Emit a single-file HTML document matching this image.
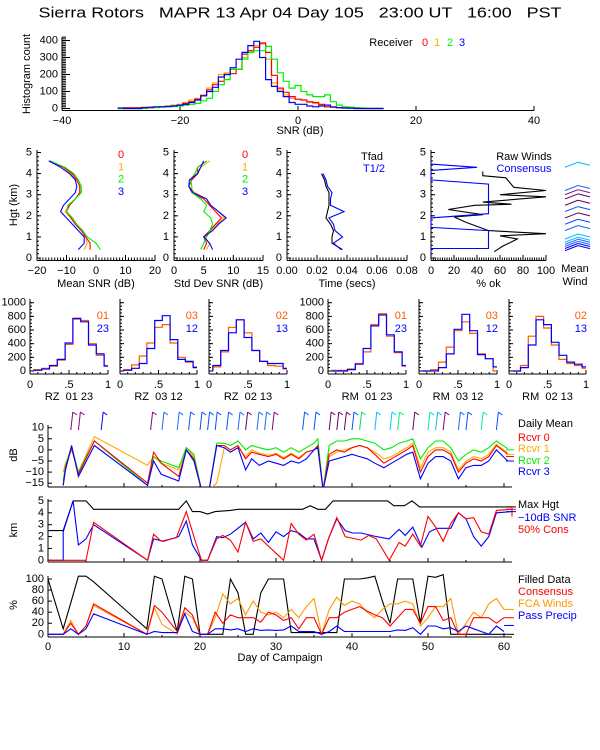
<!DOCTYPE html>
<html><head><meta charset="utf-8"><style>
html,body{margin:0;padding:0;background:#fff;}
svg{display:block;font-family:"Liberation Sans",sans-serif;}
</style></head><body>
<svg id="chart" width="600" height="750" viewBox="0 0 600 750" xmlns="http://www.w3.org/2000/svg">
<rect width="600" height="750" fill="#fff"/>
<text x="300" y="13" text-anchor="middle" dominant-baseline="central" font-size="15" style="white-space:pre" textLength="523" lengthAdjust="spacingAndGlyphs">Sierra Rotors   MAPR 13 Apr 04 Day 105   23:00 UT   16:00   PST</text>
</svg>
<script>
// ---------- DATA ----------
const snrBins=[-30,-29,-28,-27,-26,-25,-24,-23,-22,-21,-20,-19,-18,-17,-16,-15,-14,-13,-12,-11,-10,-9,-8,-7,-6,-5,-4,-3,-2,-1,0,1,2,3,4,5,6,7,8,9,10,11,12,13,14];
const histR0=[0,5,5,5,5,8,8,10,12,15,20,30,40,55,75,110,140,160,200,205,230,320,340,360,385,330,195,120,95,70,55,50,40,35,25,10,8,5,3,2,0,0,0,0,0];
const histR1=[0,0,0,5,8,8,10,12,15,20,25,35,50,60,80,120,150,200,210,230,230,300,340,370,380,290,150,110,80,60,55,50,35,30,20,10,8,5,3,2,5,0,0,0,0];
const histR2=[0,0,0,0,0,5,5,8,10,12,15,20,25,30,45,60,100,140,170,230,230,290,330,340,340,365,290,210,160,120,135,100,80,70,70,80,40,20,10,8,5,3,0,0,0];
const histR3=[3,0,0,0,5,5,10,10,12,15,20,25,35,50,75,100,125,185,200,240,290,330,370,395,300,170,130,100,70,35,25,25,15,10,15,20,10,5,3,2,0,0,0,0,0];
const histTicks=[0,100,200,300,400];
const snrTicks=[-40,-20,0,20,40];

const profHgt=[0.4,0.7,1.0,1.3,1.6,1.9,2.2,2.5,2.8,3.1,3.4,3.7,4.0,4.3,4.6];
const meanSnr0=[-2,-2,-3.5,-5,-7,-8.5,-10,-9,-7,-5.5,-5.5,-6.5,-8,-11,-16];
const meanSnr1=[-4,-3,-3.5,-5,-7,-8.5,-10.5,-9,-7,-5.5,-5.5,-6.5,-8.5,-11,-16];
const meanSnr2=[1.5,0,-3,-4.5,-6.5,-8,-10,-9.5,-7,-5,-5,-6,-7.5,-10.5,-15.5];
const meanSnr3=[-6,-4,-4,-6,-8,-10,-12,-11,-9,-7,-6.5,-7,-9,-12,-16];
const stdSnr0=[5,5.5,5,6,7,8,7,6,5,3,2.5,3,4,4,5.5];
const stdSnr1=[5.5,6,5.2,6.2,7.2,8.5,7.5,6,5.5,3.5,2.5,3,3.8,4.5,6];
const stdSnr2=[4.5,5,5.5,6,6.5,6.2,5,5.5,4.5,3,3,2.8,3.5,4,5.5];
const stdSnr3=[6.5,6,5,6.5,7.5,8.8,7.5,6.2,5.5,3.2,2.5,2.6,4,4.5,5];
const timeHgt=[0.4,0.7,1.0,1.3,1.6,1.9,2.2,2.5,2.8,3.1,3.4,3.7,4.0];
const tfad=[0.037,0.03,0.03,0.031,0.029,0.026,0.027,0.028,0.028,0.028,0.026,0.025,0.023];
const thalf=[0.036,0.031,0.037,0.032,0.031,0.028,0.038,0.029,0.029,0.03,0.027,0.026,0.024];
const consPct=[0,0,50,50,0,0,50,50,0,0,40,0,0];
const consHgt=[0.25,0.45,0.45,1.3,1.45,1.9,2.1,3.5,3.7,4.15,4.3,4.45,4.55];
const rawPct=[55,62,75,60,100,50,30,20,45,15,38,70,45,100,60,100,72,65,45,45];
const rawHgt=[0.3,0.55,0.9,1.05,1.15,1.3,1.7,1.95,2.05,2.3,2.5,2.55,2.65,2.9,3.0,3.2,3.35,3.8,3.9,4.1];

const corrEdges=[0.05,0.15,0.25,0.35,0.45,0.55,0.65,0.75,0.85,0.95,1.0];
const corrTitles=["RZ  01 23","RZ  03 12","RZ  02 13","RM  01 23","RM  03 12","RM  02 13"];
const corrPairA=["01","03","02","01","03","02"];
const corrPairB=["23","12","13","23","12","13"];
const corrA=[[20,40,70,160,390,760,740,400,230,80],[20,90,220,410,640,680,410,200,130,60],[60,280,640,750,560,300,140,80,70,30],[10,10,30,110,280,680,840,510,270,70],[0,20,130,350,590,720,550,250,180,0],[0,80,510,800,630,380,170,110,80,40]];
const corrB=[[10,30,80,170,410,770,720,380,250,70],[10,40,110,330,740,810,460,170,140,50],[80,300,560,750,490,300,140,110,110,40],[0,0,20,100,330,660,820,530,280,80],[0,0,50,250,610,830,590,240,180,60],[0,50,380,750,680,420,230,130,100,60]];

const dmDays=[2,2.3,3.1,4,6.1,13.1,13.9,14.9,17.2,18.2,19.2,20.2,21.2,22.2,23.2,24,25,26,26.8,27.8,29,30,31,32,33,34,35,35.5,36.2,37,38,39,40,41,42,43,44.2,45.2,46.2,47.2,48,49,50,51,52,53,54,55,56,57,58,59,60.5];
const dmR0=[-16,-8,1,-11,4,-15,-1,-6,-12,0,-4,-18,-18,2,2,0,2,-4,-1,-2,-3,-2,-4,-2,-4,-1,0,2,-18,-2,0,-1,1,2,1,-2,-6,-4,-2,0,2,-10,-3,0,0,-2,-10,-6,-4,-5,-3,2,-2];
const dmR1=[-10,-6,0,-10,6,-7,-3,-6,-9,1,-3,-18,-18,-15,1,-1,1,-3,0,-1.5,-2.5,-1.5,-3.5,-1.5,-3.5,-1,0,2,-18,-3,-1,0,1,2,1,-1,-4,-3,-1,1,3,-8,-1,1,1,-1,-9,-5,-3,-4,-2,2.5,-1.5];
const dmR2=[-14,-7,1.5,-10,4,-16,-3,-5,-8,1,-2,-18,-18,3,3,2,4,0,2,1,0,1,-1,1,-1,1,3,5,-18,2,4,4,5,5,4,3,0,1,3,4,5,-4,1,4,4,1,-5,-2,0,-1,1,4,0.5];
const dmR3=[-16,-9,2,-12,2,-16,-5,-11,-14,0,-5,-18,-18,2,1,-1,1,-9,-4,-7,-5,-6,-7,-5,-6,-4,0,1,-18,-5,-4,-3,-2,-3,-4,-6,-8,-6,-4,-2,-1,-13,-6,-3,-3,-5,-13,-8,-7,-7,-5,0,-5];
const dmTicks=[10,5,0,-5,-10,-15];

const mhDays=[0,2,3.3,5,6,17.2,18.2,19,20,21,22,24,25,33.5,34.5,35.5,36.5,37.5,44.7,45.5,46.9,47.9,48.9,61];
const mhVals=[2.5,2.5,5,5,4.3,4.3,5,4.1,4.1,3.9,4.1,4.2,4.3,4.3,4.6,4.3,4.3,5,5,4.6,4.6,5,4.5,4.5];
const snrHDays=[0,2,2,3.3,4,5,6,13.1,13.9,15.2,17.2,18.2,19,20.2,21,22.2,23,24,26,27,28,29,30,31,32,33,34,35,36,36.9,38,39.1,40.1,41.2,43.2,44.9,46.2,47,48,49.2,50.2,51.2,53,54,55,56,57,58,59,61];
const snrHVals=[0,0,2.4,5,1.3,1.8,3,0,1.8,1.6,2,3.3,1.3,0,0,2,1.9,2.2,3.2,1.8,2.3,1.5,2.4,2,2.5,2.3,1.8,1.8,0,1.8,3.5,2.5,2.3,2.3,2,1.8,2.6,2.1,2.8,1.1,2.4,2.7,2.7,4,3.5,2,1.2,2,4,4.1];
const consHDays=[0,5,6,13.1,13.9,14.9,16.9,18.2,19.2,20.2,21,22.2,23,24,25,26,27,28,29,30,31,32,33,34,35,36,36.9,38,39.1,41.2,42.2,43.2,44.9,46.2,47,48,49,50,51,52,53,54,55,56,57,58,59,61];
const consHVals=[0,0,3.2,0,2.2,1.6,1.9,4.1,2,0,0,1.8,2.1,1.7,0.7,3.2,1.6,1.8,1.2,0.6,0,3.1,2.2,1.7,2.2,0,1.8,3.6,2,1.7,2.1,1.8,0,1.5,1.2,2.2,1.2,3.7,2.8,1.6,3.1,4,3.5,3.6,2.4,2.2,4.2,4.3];
const kmTicks=[0,1,2,3,4,5];

const pDays=[0,2,3,4,5,6,13,14,15,17,18,19,20,21,22,23,24,25,26,27,28,29,30,31,32,33,34,35,36,37,38,39,40,41,42,43,44,45,46,47,48,49,50,51,52,53,54,55,56,57,58,59,60];
const filledPct=[100,10,57,105,105,95,10,105,100,5,105,100,0,0,0,0,100,75,0,0,75,100,100,100,3,3,3,3,3,3,3,100,100,100,102,105,60,20,100,100,100,20,105,103,108,0,0,0,0,0,0,0,0];
const consPctT=[0,0,20,0,15,55,0,52,40,5,48,35,0,0,40,20,35,30,30,30,22,40,35,25,30,10,30,30,0,30,30,40,45,50,42,35,30,15,30,45,45,20,50,50,25,30,0,0,30,30,30,20,30];
const fcaPct=[0,0,25,0,15,52,0,48,18,0,40,30,0,0,30,73,55,65,35,60,40,35,40,30,45,30,50,65,0,45,67,52,60,55,40,30,45,55,55,60,55,15,30,50,50,65,0,20,40,30,55,65,45];
const precipPct=[0,0,10,0,10,37,0,5,3,3,37,5,0,0,10,10,8,10,5,10,7,8,7,8,15,5,5,5,0,5,15,5,5,5,5,5,5,5,8,7,12,0,15,15,10,12,5,15,10,5,0,15,5];
const pctTicks=[0,20,40,60,80,100];
const dayTicks=[0,10,20,30,40,50,60];
const windDays=[3,4,7,13.5,15,17,18.5,20,21,22,23.5,25,26,27.5,28.5,29.5,33.5,35,37,38,39,40,41,43,45,46,48,50,51,52,54,55,57,59];
const windCols=["#800080","#800080","#0000ff","#800080","#1e64ff","#1e64ff","#0050ff","#0050ff","#0050ff","#0050ff","#0050ff","#1e64ff","#600060","#1e64ff","#1e64ff","#800080","#0050ff","#0050ff","#600060","#600060","#600060","#0050ff","#00e060","#00bbff","#00c8ff","#00ee88","#600060","#00ee88","#00bbff","#800080","#1e64ff","#0050ff","#00ee88","#0050ff"];

// ---------- HELPERS ----------
const NS='http://www.w3.org/2000/svg';
const svg=document.getElementById('chart');
function mk(tag,attrs,name,parent){
  const e=document.createElementNS(NS,tag);
  for(const k in attrs)e.setAttribute(k,attrs[k]);
  
  
  (parent||svg).appendChild(e);return e;
}
function ln(x1,y1,x2,y2,c,name){return mk('line',{x1:x1,y1:y1,x2:x2,y2:y2,stroke:c||'#000','stroke-width':1},name);}
function tx(x,y,s,name,o){o=o||{};const t=mk('text',{x:x,y:y,'font-size':o.fs||11,fill:o.fill||'#000','text-anchor':o.anchor||'middle','dominant-baseline':'central'},name);t.setAttribute('style','white-space:pre');if(o.rot)t.setAttribute('transform','rotate(-90 '+x+' '+y+')');t.textContent=s;return t;}
function pl(xs,ys,xf,yf,c,name,clip){const pts=xs.map((v,i)=>xf(v).toFixed(1)+','+yf(ys[i]).toFixed(1)).join(' ');const p=mk('polyline',{points:pts,fill:'none',stroke:c,'stroke-width':1.1},name);if(clip)p.setAttribute('clip-path','url(#'+clip+')');return p;}
function stepH(edges,vals,xf,yf,c,name,w){let d='M'+xf(edges[0]).toFixed(1)+','+yf(0).toFixed(1);vals.forEach((v,i)=>{d+=' L'+xf(edges[i]).toFixed(1)+','+yf(v).toFixed(1)+' L'+xf(edges[i+1]).toFixed(1)+','+yf(v).toFixed(1);});return mk('path',{d:d,fill:'none',stroke:c,'stroke-width':w||1.2},name);}
function clip(id,x,y,w,h){let defs=svg.querySelector('defs');if(!defs){defs=document.createElementNS(NS,'defs');svg.appendChild(defs);}const cp=document.createElementNS(NS,'clipPath');cp.setAttribute('id',id);const r=document.createElementNS(NS,'rect');r.setAttribute('x',x);r.setAttribute('y',y);r.setAttribute('width',w);r.setAttribute('height',h);cp.appendChild(r);defs.appendChild(cp);}
const RED='#ff0000',ORG='#ffaa00',GRN='#00ee00',BLU='#0000ff',ORG2='#ff5a00',FCA='#ff9900';

// ---------- TOP HISTOGRAM ----------
{
  const xf=d=>62+(d+40)*5.9, yf=c=>108.5-c*0.17;
  ln(62,110.5,534,110.5,'#000','histogram-x-axis');
  ln(62,37,62,110.5,'#000','histogram-y-axis');
  for(let c=0;c<=420;c+=10)ln(62,yf(c),c%100===0?70:66,yf(c),'#000','histogram-y-tick');
  histTicks.forEach(c=>tx(58,yf(c),String(c),'histogram-y-label',{anchor:'end'}));
  snrTicks.forEach(d=>{ln(xf(d),110.5,xf(d),106,'#000','histogram-x-tick');tx(xf(d),121,d<0?'\u2212'+(-d):String(d),'histogram-x-label');});
  tx(300,131,'SNR (dB)','histogram-x-title');
  tx(27,74,'Histogram count','histogram-y-title',{rot:1});
  const edges=snrBins.map(b=>b-0.5).concat([snrBins[snrBins.length-1]+0.5]);
  stepH(edges,histR1,xf,yf,ORG,'histogram-receiver-1');
  stepH(edges,histR0,xf,yf,RED,'histogram-receiver-0');
  stepH(edges,histR2,xf,yf,GRN,'histogram-receiver-2');
  stepH(edges,histR3,xf,yf,BLU,'histogram-receiver-3');
  tx(391,43,'Receiver','receiver-legend-title');
  tx(425,43,'0','receiver-legend-0',{fill:RED});tx(437,43,'1','receiver-legend-1',{fill:ORG});
  tx(450,43,'2','receiver-legend-2',{fill:GRN});tx(462,43,'3','receiver-legend-3',{fill:BLU});
}

// ---------- PROFILE PANELS ----------
const hY=h=>258-h*21.1;
function profAxes(x0,x1,lo,hi,ticks,fmt,title,nm,minor){
  const xf=v=>x0+(v-lo)/(hi-lo)*(x1-x0);
  ln(x0,260.5,x1,260.5,'#000',nm+'-x-axis');ln(x0,150,x0,260.5,'#000',nm+'-y-axis');
  for(let i=0;i<=minor;i++){const xx=x0+i*(x1-x0)/minor;ln(xx,260.5,xx,257.5,'#000',nm+'-x-minor-tick');}
  for(let k=0;k<=5;k++){ln(x0,hY(k),x0+4,hY(k),'#000',nm+'-y-tick');tx(x0-5,hY(k),String(k),nm+'-y-label',{anchor:'end'});}
  for(let k=0;k<=25;k++)ln(x0,hY(k/5),x0+2,hY(k/5),'#000',nm+'-y-minor-tick');
  ticks.forEach(v=>{ln(xf(v),260.5,xf(v),255,'#000',nm+'-x-tick');tx(xf(v),271,fmt(v),nm+'-x-label');});
  tx((x0+x1)/2,284,title,nm+'-x-title');
  return xf;
}
{
  const xf=profAxes(37,155,-20,20,[-20,-10,0,10,20],v=>v<0?'\u2212'+(-v):String(v),'Mean SNR (dB)','mean-snr',40);
  tx(14,205,'Hgt (km)','height-axis-title',{rot:1});
  pl(meanSnr1,profHgt,xf,hY,ORG,'mean-snr-receiver-1');pl(meanSnr0,profHgt,xf,hY,RED,'mean-snr-receiver-0');
  pl(meanSnr2,profHgt,xf,hY,GRN,'mean-snr-receiver-2');pl(meanSnr3,profHgt,xf,hY,BLU,'mean-snr-receiver-3');
  [['0',RED],['1',ORG],['2',GRN],['3',BLU]].forEach((a,i)=>tx(121,155+i*12.3,a[0],'mean-snr-legend-'+a[0],{fill:a[1]}));
}
{
  const xf=profAxes(174,263,0,15,[0,5,10,15],String,'Std Dev SNR (dB)','std-snr',30);
  pl(stdSnr1,profHgt,xf,hY,ORG,'std-snr-receiver-1');pl(stdSnr0,profHgt,xf,hY,RED,'std-snr-receiver-0');
  pl(stdSnr2,profHgt,xf,hY,GRN,'std-snr-receiver-2');pl(stdSnr3,profHgt,xf,hY,BLU,'std-snr-receiver-3');
  [['0',RED],['1',ORG],['2',GRN],['3',BLU]].forEach((a,i)=>tx(245,155+i*12.3,a[0],'std-snr-legend-'+a[0],{fill:a[1]}));
}
{
  const xf=profAxes(287,407,0,0.08,[0,0.02,0.04,0.06,0.08],v=>v.toFixed(2),'Time (secs)','time',40);
  pl(tfad,timeHgt,xf,hY,'#000','tfad-profile');pl(thalf,timeHgt,xf,hY,BLU,'t-half-profile');
  tx(372,157,'Tfad','tfad-legend');tx(374,169,'T1/2','t-half-legend',{fill:BLU});
}
{
  const xf=profAxes(431,546,0,100,[0,20,40,60,80,100],String,'% ok','pct-ok',50);
  pl(rawPct,rawHgt,xf,hY,'#000','raw-winds-profile');pl(consPct,consHgt,xf,hY,BLU,'consensus-profile');
  tx(524,157,'Raw Winds','raw-winds-legend');tx(524,169,'Consensus','consensus-legend',{fill:BLU});
  tx(575,269,'Mean','mean-wind-label');tx(575,282,'Wind','mean-wind-label-2');
  const wh=[0.35,0.45,0.55,0.65,0.75,0.9,1.3,1.6,1.9,2.2,2.5,2.8,3.0,3.2,4.3];
  const wc=['#0000ff','#0000ff','#1e64ff','#1e64ff','#00aaff','#00bbff','#0050ff','#0050ff','#600060','#0050ff','#600060','#600060','#800080','#1e64ff','#00bbff'];
  wh.forEach((h,i)=>{const y=hY(h);ln(565,y,578,y-5,wc[i],'mean-wind-barb');ln(578,y-5,590,y-2,wc[i],'mean-wind-barb-flag');});
}

// ---------- CORRELATION HISTOGRAMS ----------
{
  const px=[[30,108],[120,197],[209,287],[328,406],[419,497],[509,586]];
  const yf=v=>371-v*0.0683;
  px.forEach((p,i)=>{
    const xf=v=>p[0]+v*(p[1]-p[0]);const nm='corr-panel-'+(i+1);
    ln(p[0],374,p[1],374,'#000',nm+'-x-axis');ln(p[0],299,p[0],374,'#000',nm+'-y-axis');
    for(let k=0;k<=1000;k+=200){ln(p[0],yf(k),p[0]+4,yf(k),'#000',nm+'-y-tick');if(i===0||i===3)tx(p[0]-4,yf(k),String(k),nm+'-y-label',{anchor:'end'});}
    for(let k=0;k<=1000;k+=50)ln(p[0],yf(k),p[0]+2,yf(k),'#000',nm+'-y-minor-tick');
    [[0,'0'],[0.5,'.5'],[1,'1']].forEach(t=>{ln(xf(t[0]),374,xf(t[0]),370,'#000',nm+'-x-tick');tx(xf(t[0]),385,t[1],nm+'-x-label');});
    for(let k=0;k<=10;k++)ln(xf(k/10),374,xf(k/10),372,'#000',nm+'-x-minor-tick');
    tx((p[0]+p[1])/2,397,corrTitles[i],nm+'-title');
    stepH(corrEdges,corrA[i],xf,yf,ORG2,nm+'-series-a');
    stepH(corrEdges,corrB[i],xf,yf,BLU,nm+'-series-b');
    tx(p[1]+1,316,corrPairA[i],nm+'-legend-a',{anchor:'end',fill:ORG2});
    tx(p[1]+1,329,corrPairB[i],nm+'-legend-b',{anchor:'end',fill:BLU});
  });
}

// ---------- TIME SERIES ----------
const dX=d=>48+d*7.6;
function tsAxes(y0,y1,nm,ticks,yf){
  ln(48,y1,512,y1,'#000',nm+'-x-axis');ln(48,y0,48,y1,'#000',nm+'-y-axis');
  for(let d=0;d<=61;d+=5)ln(dX(d),y1,dX(d),y1-(d%10===0?4:2),'#000',nm+'-x-tick');
  ticks.forEach(v=>{ln(48,yf(v),52,yf(v),'#000',nm+'-y-tick');});
}
{
  const yv=v=>427.7+(10-v)*2.22;
  tsAxes(425,487,'daily-mean',dmTicks,yv);
  dmTicks.forEach(v=>tx(44,yv(v),v<0?'\u2212'+(-v):String(v),'daily-mean-y-label',{anchor:'end'}));
  tx(14,455,'dB','daily-mean-y-title',{rot:1});
  clip('dmclip',48,410,464,77);
  pl(dmDays,dmR1,dX,yv,ORG,'daily-mean-receiver-1','dmclip');
  pl(dmDays,dmR2,dX,yv,GRN,'daily-mean-receiver-2','dmclip');
  pl(dmDays,dmR0,dX,yv,RED,'daily-mean-receiver-0','dmclip');
  pl(dmDays,dmR3,dX,yv,BLU,'daily-mean-receiver-3','dmclip');
  tx(518,424,'Daily Mean','daily-mean-legend-title',{anchor:'start'});
  tx(518,438,'Rcvr 0','legend-rcvr-0',{anchor:'start',fill:RED});
  tx(518,449,'Rcvr 1','legend-rcvr-1',{anchor:'start',fill:ORG});
  tx(518,461,'Rcvr 2','legend-rcvr-2',{anchor:'start',fill:GRN});
  tx(518,472,'Rcvr 3','legend-rcvr-3',{anchor:'start',fill:BLU});
  [[0,GRN],[-2,ORG],[-3,RED],[-5,BLU]].forEach(a=>ln(506,yv(a[0]),514,yv(a[0]),a[1],'daily-mean-end-marker'));
  windDays.forEach((d,i)=>{const x=dX(d);ln(x,430,x+2,412,windCols[i],'wind-barb');ln(x+2,412,x+6,415,windCols[i],'wind-barb-flag');});
}
{
  const yf=v=>560.3-v*11.87;
  tsAxes(499,562,'height',kmTicks,yf);
  kmTicks.forEach(v=>tx(44,yf(v),String(v),'height-y-label',{anchor:'end'}));
  tx(14,530,'km','height-y-title',{rot:1});
  pl(mhDays,mhVals,dX,yf,'#000','max-height-series');
  pl(snrHDays,snrHVals,dX,yf,BLU,'snr-height-series');
  pl(consHDays,consHVals,dX,yf,RED,'consensus-height-series');
  ln(508,yf(4.5),516,yf(4.5),'#000','max-height-end-marker');ln(512,yf(4.1)-5,512,yf(4.1)+5,RED,'height-end-marker');
  ln(506,yf(4.1),516,yf(4.1),BLU,'snr-end-marker');ln(506,yf(4.3),516,yf(4.3),RED,'cons-end-marker');
  tx(518,505,'Max Hgt','legend-max-height',{anchor:'start'});
  tx(518,518,'\u221210dB SNR','legend-snr-height',{anchor:'start',fill:BLU});
  tx(518,530,'50% Cons','legend-cons-height',{anchor:'start',fill:RED});
}
{
  const yf=v=>634.3-v*0.553;
  tsAxes(576,637,'percent',pctTicks,yf);
  pctTicks.forEach(v=>tx(44,yf(v),String(v),'percent-y-label',{anchor:'end'}));
  tx(14,605,'%','percent-y-title',{rot:1});
  dayTicks.forEach(d=>tx(dX(d),647,String(d),'day-x-label'));
  tx(280,658,'Day of Campaign','day-x-title');
  pl(pDays,filledPct,dX,yf,'#000','filled-data-series');
  pl(pDays,fcaPct,dX,yf,FCA,'fca-winds-series');
  pl(pDays,consPctT,dX,yf,RED,'consensus-series');
  pl(pDays,precipPct,dX,yf,BLU,'pass-precip-series');
  [[0,'#000'],[45,FCA],[30,RED],[16,BLU]].forEach(a=>ln(504,yf(a[0]),514,yf(a[0]),a[1],'percent-end-marker'));
  tx(518,580,'Filled Data','legend-filled-data',{anchor:'start'});
  tx(518,592,'Consensus','legend-consensus',{anchor:'start',fill:RED});
  tx(518,604,'FCA Winds','legend-fca-winds',{anchor:'start',fill:FCA});
  tx(518,616,'Pass Precip','legend-pass-precip',{anchor:'start',fill:BLU});
}
</script>
</body></html>
